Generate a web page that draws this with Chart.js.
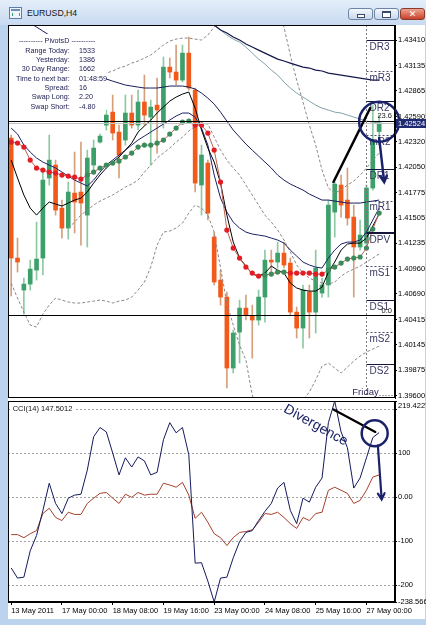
<!DOCTYPE html>
<html lang="en">
<head>
<meta charset="UTF-8">
<title>EURUSD,H4</title>
<script src="https://cdn.jsdelivr.net/npm/chart.js"></script>
<style>
  html, body { margin: 0; padding: 0; }
  body { width: 426px; height: 625px; overflow: hidden; position: relative; background: #bcd3ee; font-family: 'Liberation Sans', Arial, sans-serif; }
  .titlebar { position: absolute; left: 0; top: 0; width: 426px; height: 25px; background: linear-gradient(#e4eef9, #c8daf0); }
  .title { position: absolute; left: 27px; top: 8px; font-size: 8.7px; color: #151515; }
  .icon { position: absolute; left: 9px; top: 7px; width: 11px; height: 10px; border: 1px solid #5d7ea8; background: #eef4fb; }
  .icon:before { content: ''; position: absolute; left: 1px; top: 1px; width: 9px; height: 2px; background: #6d8db8; }
  .icon:after { content: ''; position: absolute; left: 2px; top: 5px; width: 6px; height: 3px; border-left: 1px solid #3a9e68; border-right: 1px solid #e0602a; }
  .btn { position: absolute; top: 8px; height: 10px; border: 1px solid #6c84a5; border-radius: 3px; background: linear-gradient(#f4f7fb, #c9d8eb); }
  .min { left: 348px; width: 23px; }
  .min:after { content: ''; position: absolute; left: 8px; top: 5px; width: 6px; height: 2px; border: 1px solid #3a4a66; background: #fff; }
  .max { left: 374px; width: 23px; }
  .max:after { content: ''; position: absolute; left: 7px; top: 2px; width: 7px; height: 4px; border: 1px solid #3a4a66; border-top-width: 2px; background: #fff; }
  .close { left: 400px; width: 23px; border-color: #8d3a2a; background: linear-gradient(#eda592, #c8402a); color: #fff; font: bold 9px 'DejaVu Sans', sans-serif; text-align: center; line-height: 10px; }
  .client { position: absolute; left: 8px; top: 25px; width: 417px; height: 594px; background: #fff; }
  #main { position: absolute; left: 8px; top: 25px; }
  #cci { position: absolute; left: 8px; top: 392px; }
</style>
</head>
<body>
  <div class="titlebar">
    <div class="icon"></div>
    <div class="title">EURUSD,H4</div>
    <div class="btn min"></div>
    <div class="btn max"></div>
    <div class="btn close">✕</div>
  </div>
  <div class="client"></div>
  <canvas id="main" width="418" height="377"></canvas>
  <canvas id="cci" width="418" height="228"></canvas>

<script>
  // H4 bars, 13 May 16:00 .. 27 May 08:00, plus two empty slots on the right
  const barTimes = [
    '13 May 16:00','13 May 20:00',
    '16 May 00:00','16 May 04:00','16 May 08:00','16 May 12:00','16 May 16:00','16 May 20:00',
    '17 May 00:00','17 May 04:00','17 May 08:00','17 May 12:00','17 May 16:00','17 May 20:00',
    '18 May 00:00','18 May 04:00','18 May 08:00','18 May 12:00','18 May 16:00','18 May 20:00',
    '19 May 00:00','19 May 04:00','19 May 08:00','19 May 12:00','19 May 16:00','19 May 20:00',
    '20 May 00:00','20 May 04:00','20 May 08:00','20 May 12:00','20 May 16:00','20 May 20:00',
    '23 May 00:00','23 May 04:00','23 May 08:00','23 May 12:00','23 May 16:00','23 May 20:00',
    '24 May 00:00','24 May 04:00','24 May 08:00','24 May 12:00','24 May 16:00','24 May 20:00',
    '25 May 00:00','25 May 04:00','25 May 08:00','25 May 12:00','25 May 16:00','25 May 20:00',
    '26 May 00:00','26 May 04:00','26 May 08:00','26 May 12:00','26 May 16:00','26 May 20:00',
    '27 May 00:00','27 May 04:00','27 May 08:00','27 May 12:00','27 May 16:00'
  ];
  const axisTickIdx = [0, 8, 16, 24, 32, 40, 48, 56];
  const axisTickText = ['13 May 2011','17 May 00:00','18 May 08:00','19 May 16:00','23 May 00:00','24 May 08:00','25 May 16:00','27 May 00:00'];

  const open = [1.42360,1.41075,1.40732,1.40796,1.40946,1.41075,1.41932,1.42071,1.41610,1.41396,
    1.41771,1.41782,1.41535,1.42071,1.42317,1.42499,1.42638,1.42424,1.42339,1.42628,
    1.42499,1.42746,1.42585,1.42713,1.42531,1.43120,1.43067,1.42981,1.43270,1.42874,
    1.41857,1.42092,1.41300,1.40839,1.40657,1.39897,1.40282,1.40539,1.40454,1.40411,
    1.40657,1.41053,1.41032,1.41128,1.41021,1.40496,1.40325,1.40711,1.40496,1.40700,
    1.40786,1.41567,1.41857,1.41696,1.41514,1.41193,1.41235,1.41825,1.42430];
  const high = [1.42392,1.41289,1.40861,1.41053,1.41460,1.41996,1.42392,1.42124,1.41696,1.41889,
    1.42210,1.42317,1.42231,1.42339,1.42403,1.42660,1.42821,1.42499,1.42821,1.42821,
    1.42874,1.43035,1.42767,1.43003,1.43228,1.43217,1.43356,1.43356,1.43442,1.42896,
    1.42285,1.42124,1.41353,1.40946,1.40711,1.40304,1.40625,1.40679,1.40571,1.40732,
    1.41160,1.41160,1.41246,1.41246,1.41075,1.40550,1.40786,1.40786,1.41160,1.40861,
    1.41696,1.41889,1.41964,1.42039,1.41642,1.41482,1.41857,1.42713,1.42606];
  const low = [1.40668,1.40925,1.40475,1.40732,1.40839,1.40893,1.41857,1.41535,1.41289,1.41278,
    1.41343,1.41214,1.41193,1.41996,1.42306,1.42446,1.42339,1.41932,1.42285,1.42467,
    1.42446,1.42499,1.42071,1.42199,1.42467,1.43003,1.42928,1.42960,1.42874,1.41782,
    1.41535,1.41482,1.40786,1.40571,1.39683,1.39843,1.39950,1.40411,1.40004,1.40357,
    1.40389,1.40925,1.40968,1.40968,1.40464,1.40218,1.40111,1.40218,1.40272,1.40657,
    1.40657,1.41300,1.41514,1.41428,1.40657,1.41160,1.41193,1.41803,1.42330];
  const close = [1.41075,1.41032,1.40796,1.40957,1.41064,1.41910,1.42124,1.41589,1.41396,1.41782,
    1.41675,1.41664,1.42146,1.42253,1.42381,1.42606,1.42414,1.42178,1.42628,1.42499,
    1.42746,1.42606,1.42692,1.42660,1.43120,1.43067,1.42981,1.43270,1.42896,1.41878,
    1.42178,1.41557,1.40818,1.40657,1.39897,1.40272,1.40539,1.40464,1.40411,1.40657,
    1.41053,1.41032,1.41128,1.41000,1.40496,1.40325,1.40732,1.40496,1.40968,1.40786,
    1.41642,1.41867,1.41642,1.41503,1.41193,1.41321,1.41825,1.42317,1.42524];

  // dotted moving average (red when falling, green when rising)
  const maDots = [1.42317,1.42306,1.42264,1.42124,1.42039,1.42017,1.41996,1.41985,1.41964,1.41953,
    1.41942,1.41921,1.41964,1.41996,1.42039,1.42071,1.42092,1.42114,1.42157,1.42199,
    1.42264,1.42285,1.42285,1.42306,1.42339,1.42403,1.42467,1.42531,1.42542,1.42499,
    1.42499,1.42414,1.42231,1.41889,1.41375,1.41182,1.41075,1.40978,1.40914,1.40882,
    1.40893,1.40903,1.40925,1.40925,1.40914,1.40914,1.40914,1.40914,1.40903,1.40903,
    1.40946,1.40978,1.41021,1.41064,1.41075,1.41086,1.41182,1.41385,1.41557];
  const fastLine = [1.42124,1.41932,1.41750,1.41610,1.41535,1.41610,1.41675,1.41653,1.41632,1.41664,
    1.41696,1.41717,1.41782,1.41878,1.41964,1.42039,1.42103,1.42157,1.42231,1.42306,
    1.42424,1.42489,1.42553,1.42628,1.42692,1.42756,1.42799,1.42831,1.42853,1.42681,
    1.42446,1.42253,1.42103,1.41878,1.41535,1.41246,1.41075,1.40989,1.40903,1.40882,
    1.40914,1.40989,1.40946,1.40914,1.40807,1.40754,1.40732,1.40721,1.40721,1.40764,
    1.40925,1.41032,1.41160,1.41225,1.41235,1.41235,1.41289,1.41418,1.41546];
  const midLine = [1.42467,1.42403,1.42285,1.42210,1.42146,1.42103,1.42071,1.42039,1.41996,1.41953,
    1.41910,1.41878,1.41846,1.41910,1.41996,1.42071,1.42124,1.42178,1.42231,1.42285,
    1.42339,1.42381,1.42424,1.42467,1.42510,1.42553,1.42596,1.42628,1.42628,1.42585,
    1.42467,1.42285,1.41964,1.41717,1.41567,1.41460,1.41396,1.41353,1.41332,1.41321,
    1.41310,1.41289,1.41268,1.41235,1.41160,1.41096,1.41032,1.41000,1.40978,1.40968,
    1.41075,1.41160,1.41225,1.41246,1.41246,1.41268,1.41353,1.41482,1.41610];
  const envUpper = [1.43784,1.43709,1.43645,1.43592,1.43549,1.43506,1.43463,1.43420,1.43356,1.43302,
    1.43238,1.43174,1.43120,1.43067,1.43024,1.42992,1.42970,1.42949,1.42928,1.42917,
    1.42906,1.42896,1.42896,1.42896,1.42906,1.42917,1.42917,1.42917,1.42906,1.42885,
    1.42842,1.42788,1.42724,1.42638,1.42542,1.42446,1.42371,1.42296,1.42231,1.42167,
    1.42103,1.42039,1.41964,1.41910,1.41867,1.41835,1.41803,1.41760,1.41728,1.41696,
    1.41696,1.41685,1.41675,1.41664,1.41664,1.41664,1.41675,1.41685,1.41696];
  const slowLine = [null,null,null,null,null,null,null,null,null,null,
    null,null,null,null,null,null,null,null,null,null,
    null,null,null,null,null,null,null,null,1.43667,1.43645,
    1.43624,1.43602,1.43570,1.43517,1.43485,1.43442,1.43410,1.43367,1.43335,1.43302,
    1.43270,1.43238,1.43206,1.43185,1.43163,1.43142,1.43120,1.43110,1.43088,1.43078,
    1.43056,1.43045,1.43035,1.43024,1.43013,1.43003,1.42992,1.42981,1.42981];
  const tealLine = [null,null,null,null,null,null,null,null,null,null,
    null,null,null,null,null,null,null,null,null,null,
    null,null,null,null,null,null,null,null,1.43731,1.43699,
    1.43667,1.43624,1.43570,1.43517,1.43463,1.43420,1.43388,1.43335,1.43270,1.43206,
    1.43153,1.43088,1.43035,1.42960,1.42896,1.42842,1.42799,1.42756,1.42713,1.42681,
    1.42660,1.42638,1.42628,1.42606,1.42585,1.42564,1.42542,1.42531,1.42521];
  const bandUpper = [1.42821,1.42842,1.42853,1.42874,1.42896,1.42906,1.42917,1.42928,1.42938,1.42949,
    1.42960,1.42981,1.42992,1.43003,1.43024,1.43056,1.43078,1.43110,1.43131,1.43163,
    1.43185,1.43217,1.43249,1.43302,1.43356,1.43399,1.43420,1.43431,1.43431,1.43420,
    1.43410,1.43463,1.43549,1.43645,1.43709,1.43752,1.43784,1.43784,1.43774,1.43752,
    1.43731,1.43709,1.43677,1.43549,1.43249,1.42981,1.42746,1.42499,1.42285,1.42017,
    1.41825,1.41771,1.41803,1.41857,1.41899,1.41964,1.42039,1.42124,1.42199];
  const bandLower = [null,null,null,null,null,null,null,null,null,1.41396,
    1.41460,1.41535,1.41589,1.41642,1.41685,1.41717,1.41750,1.41792,1.41835,1.41867,
    1.41910,1.41996,1.42071,1.42146,1.42199,1.42253,1.42317,1.42371,1.42435,1.42489,
    1.42521,1.42510,1.42371,1.42231,1.42124,1.42039,1.41964,1.41857,1.41750,1.41642,
    1.41535,1.41460,1.41375,1.41268,1.41139,1.41000,1.40914,1.40861,1.40828,1.40807,
    1.40796,1.40818,1.40882,1.40925,1.40957,1.40989,1.41032,1.41075,1.41118];
  const bandLowerWide = [1.40807,1.40646,1.40496,1.40357,1.40336,1.40475,1.40571,1.40646,1.40625,1.40604,
    1.40593,1.40593,1.40604,1.40614,1.40625,1.40614,1.40593,1.40614,1.40625,1.40657,
    1.40732,1.40818,1.40978,1.41214,1.41353,1.41364,1.41396,1.41450,1.41557,1.41642,
    1.41610,1.41535,1.41353,1.40968,1.40593,1.40357,1.40143,1.39982,1.39608,1.39393,
    1.39233,1.39126,1.39126,1.39179,1.39286,1.39425,1.39554,1.39640,1.39768,1.39918,
    1.39950,1.39897,1.39843,1.39907,1.39972,1.40025,1.40068,1.40100,1.40132];

  const priceTicks = [1.43410,1.43135,1.42865,1.42590,1.42320,1.42050,1.41775,1.41505,1.41235,1.40960,1.40690,1.40415,1.40145,1.39875,1.39600];
  const priceMin = 1.39576, priceMax = 1.43571;
  const bidPrice = 1.42524;

  const pivotNames = ['DR3','mR3','DR2','mR2','DR1','mR1','DPV','mS1','DS1','mS2','DS2'];
  const pivotLevels = [1.43410,1.43080,1.42755,1.42390,1.42030,1.41690,1.41345,1.40985,1.40625,1.40285,1.39940];
  const fibLevels = [1.42543, 1.40460];
  const fibText = ['23.6', '0.0'];
  const daySep = barTimes.indexOf('27 May 00:00');

  const infoRows = [['Range Today:', '1533'], ['Yesterday:', '1386'], ['30 Day Range:', '1662'],
    ['Time to next bar:', '01:48:59'], ['Spread:', '16'], ['Swap Long:', '2.20'], ['Swap Short:', '-4.80']];

  // hand drawn marks, [bar index, price]
  const trendMain = [[50.8, 1.41889], [56.6, 1.42682]];
  const circleMain = [58.0, 1.42535];
  const arrowMain = [[58.0, 1.42361], [58.8, 1.41889]];

  const cciMain = [-161,-184,-182,-122,-87,-30,32,-14,-37,-2,
    5,7,62,138,159,149,101,51,90,69,
    92,83,51,57,131,170,147,159,97,-150,
    -149,-191,-238.566,-184,-182,-138,-101,-80,-76,-53,
    -32,-14,21,34,-30,-60,-2,-11,23,44,
    170,219.4227,149,113,21,44,90,136,147.5012];
  const cciSlow = [-85,-85,-92,-83,-76,-37,-25,-46,-53,-34,
    -39,-39,-14,-2,9,11,-2,-14,7,0,
    11,5,7,7,32,28,23,34,5,-48,
    -34,-57,-83,-92,-110,-92,-80,-78,-74,-57,
    -37,-39,-34,-46,-60,-71,-46,-53,-37,-34,
    16,23,16,9,-14,-7,16,46,51];
  const cciTicks = [219.4227, 200, 100, 0, -100, -200, -238.566];
  const cciTickText = ['219.4227', '', '100', '0.00', '-100', '-200', '-238.566'];
  const trendCci = [[50.8, 200], [57.4, 149]];
  const circleCci = [57.3, 146];
  const arrowCci = [[57.8, 118], [58.4, -5]];
  const divergenceAt = [48.0, 164];

  const GREEN = '#3d9f69', ORANGE = '#f25a1c';
  const NAVY = '#1b226a';
  const FONT = "'Liberation Sans', Arial, sans-serif";
  Chart.defaults.font.family = FONT;
  Chart.defaults.font.size = 7.5;
  Chart.defaults.color = '#000';

  const bodyColors = open.map((o, i) => close[i] >= o ? GREEN : ORANGE);
  const wickColors = open.map((o, i) => close[i] >= o ? '#8cc9a2' : '#d4a07c');
  const dotColors = [];
  maDots.forEach((v, i) => {
    let c = i ? dotColors[i - 1] : '#e31d25';
    if (i && v > maDots[i - 1]) c = '#3a8c5c';
    if (i && v < maDots[i - 1]) c = '#e31d25';
    dotColors.push(c);
  });

  function hline(ctx, x1, x2, yy, color, w, dash) {
    ctx.save();
    ctx.strokeStyle = color;
    ctx.lineWidth = w;
    ctx.setLineDash(dash);
    const yr = w % 2 ? Math.round(yy) + 0.5 : Math.round(yy);
    ctx.beginPath();
    ctx.moveTo(x1, yr);
    ctx.lineTo(x2, yr);
    ctx.stroke();
    ctx.restore();
  }

  function arrow(ctx, x1, y1, x2, y2, color, w) {
    const ang = Math.atan2(y2 - y1, x2 - x1);
    ctx.save();
    ctx.strokeStyle = color;
    ctx.lineWidth = w;
    ctx.lineCap = 'round';
    ctx.beginPath();
    ctx.moveTo(x1, y1);
    ctx.lineTo(x2, y2);
    ctx.moveTo(x2 - 7 * Math.cos(ang - 0.5), y2 - 7 * Math.sin(ang - 0.5));
    ctx.lineTo(x2, y2);
    ctx.lineTo(x2 - 7 * Math.cos(ang + 0.5), y2 - 7 * Math.sin(ang + 0.5));
    ctx.stroke();
    ctx.restore();
  }

  const mainDecor = {
    id: 'mainDecor',
    afterDatasetsDraw(chart) {
      const {ctx, chartArea: a, scales: {x, y}} = chart;
      const X = i => x.getPixelForValue(i);
      const Y = v => y.getPixelForValue(v);
      ctx.save();
      ctx.beginPath();
      ctx.rect(a.left, a.top, a.right - a.left, a.bottom - a.top);
      ctx.clip();

      hline(ctx, a.left, a.right, Y(bidPrice), '#c4c4c4', 1, []);
      fibLevels.forEach(v => hline(ctx, a.left, a.right, Y(v), '#000', 1, []));

      const sep = Math.round(X(daySep)) + 0.5;
      ctx.strokeStyle = '#7c7c7c';
      ctx.lineWidth = 1;
      ctx.setLineDash([2, 2]);
      ctx.beginPath();
      ctx.moveTo(sep, a.top);
      ctx.lineTo(sep, a.bottom);
      ctx.stroke();
      ctx.setLineDash([]);

      ctx.font = '10px ' + FONT;
      ctx.textAlign = 'left';
      ctx.textBaseline = 'top';
      pivotNames.forEach((n, k) => {
        const py = Y(pivotLevels[k]);
        const major = n[0] === 'D';
        hline(ctx, sep, a.right, py, major ? '#16163a' : '#4c4c6a', n === 'DPV' ? 2 : 1, major ? [] : [2, 2]);
        ctx.fillStyle = '#3a3a62';
        ctx.fillText(n, sep + 3, py + 2);
      });

      ctx.font = '7.5px ' + FONT;
      ctx.fillStyle = '#222';
      ctx.textAlign = 'right';
      ctx.textBaseline = 'bottom';
      fibLevels.forEach((v, k) => ctx.fillText(fibText[k], a.right - 3, Y(v) - 1));

      ctx.font = '9.5px ' + FONT;
      ctx.fillStyle = '#2a2a5a';
      ctx.textAlign = 'center';
      ctx.fillText('Friday', sep - 1, a.bottom - 1);
      ctx.strokeStyle = '#555';
      ctx.setLineDash([1, 2]);
      ctx.beginPath();
      ctx.moveTo(sep + 13, a.bottom - 2.5);
      ctx.lineTo(a.right, a.bottom - 2.5);
      ctx.stroke();
      ctx.setLineDash([]);

      // info panel
      ctx.fillStyle = '#fff';
      ctx.fillRect(a.left + 1, a.top + 9, 97, 79);
      ctx.fillStyle = '#1b1b50';
      ctx.font = '7.2px ' + FONT;
      ctx.textBaseline = 'middle';
      ctx.textAlign = 'center';
      ctx.fillText('---------- PivotsD ----------', a.left + 49, a.top + 16);
      infoRows.forEach(([k, v], r) => {
        const yy = a.top + 25.7 + r * 9.35;
        ctx.textAlign = 'right';
        ctx.fillText(k, a.left + 61.7, yy);
        ctx.textAlign = 'left';
        ctx.fillText(v, a.left + 71, yy);
      });
      ctx.restore();

      // drawn objects
      ctx.save();
      ctx.lineCap = 'round';
      ctx.strokeStyle = '#000';
      ctx.lineWidth = 2.5;
      ctx.beginPath();
      ctx.moveTo(X(trendMain[0][0]), Y(trendMain[0][1]));
      ctx.lineTo(X(trendMain[1][0]), Y(trendMain[1][1]));
      ctx.stroke();
      ctx.strokeStyle = NAVY;
      ctx.beginPath();
      ctx.arc(X(circleMain[0]), Y(circleMain[1]), 20, 0, Math.PI * 2);
      ctx.stroke();
      ctx.restore();
      arrow(ctx, X(arrowMain[0][0]), Y(arrowMain[0][1]), X(arrowMain[1][0]), Y(arrowMain[1][1]), NAVY, 2.5);
    },
    afterDraw(chart) {
      const {ctx, chartArea: a, scales: {y}} = chart;
      ctx.save();
      ctx.strokeStyle = '#000';
      ctx.lineWidth = 1;
      ctx.strokeRect(a.left + 0.5, a.top + 0.5, a.right - a.left - 1, a.bottom - a.top - 1);
      const ty = Math.round(y.getPixelForValue(bidPrice));
      ctx.fillStyle = '#1f2a72';
      ctx.fillRect(a.right + 1, ty - 4, 30, 9);
      ctx.fillStyle = '#fff';
      ctx.font = '7.5px ' + FONT;
      ctx.textAlign = 'left';
      ctx.textBaseline = 'middle';
      ctx.fillText(bidPrice.toFixed(5), a.right + 3, ty + 0.5);
      ctx.restore();
    }
  };

  const cciDecor = {
    id: 'cciDecor',
    afterDatasetsDraw(chart) {
      const {ctx, chartArea: a, scales: {x, y}} = chart;
      const X = i => x.getPixelForValue(i);
      const Y = v => y.getPixelForValue(v);
      ctx.save();
      const title = 'CCI(14) ' + cciMain[cciMain.length - 1].toFixed(4);
      ctx.font = '7.5px ' + FONT;
      const w = ctx.measureText(title).width;
      ctx.fillStyle = '#fff';
      ctx.fillRect(a.left + 3, a.top + 3, w + 5, 9);
      ctx.fillStyle = '#111';
      ctx.textBaseline = 'middle';
      ctx.textAlign = 'left';
      ctx.fillText(title, a.left + 4.7, a.top + 7.5);

      ctx.save();
      ctx.translate(X(divergenceAt[0]), Y(divergenceAt[1]));
      ctx.rotate(29 * Math.PI / 180);
      ctx.font = '14px ' + FONT;
      ctx.fillStyle = '#1c2466';
      ctx.textAlign = 'center';
      ctx.fillText('Divergence', 0, 0);
      ctx.restore();

      ctx.lineCap = 'round';
      ctx.strokeStyle = '#000';
      ctx.lineWidth = 2.2;
      ctx.beginPath();
      ctx.moveTo(X(trendCci[0][0]), Y(trendCci[0][1]));
      ctx.lineTo(X(trendCci[1][0]), Y(trendCci[1][1]));
      ctx.stroke();
      ctx.strokeStyle = NAVY;
      ctx.lineWidth = 2.5;
      ctx.beginPath();
      ctx.arc(X(circleCci[0]), Y(circleCci[1]), 13, 0, Math.PI * 2);
      ctx.stroke();
      ctx.restore();
      arrow(ctx, X(arrowCci[0][0]), Y(arrowCci[0][1]), X(arrowCci[1][0]), Y(arrowCci[1][1]), NAVY, 2.2);
    },
    afterDraw(chart) {
      const {ctx, chartArea: a} = chart;
      ctx.save();
      ctx.strokeStyle = '#000';
      ctx.lineWidth = 1;
      ctx.strokeRect(a.left + 0.5, a.top + 0.5, a.right - a.left - 1, a.bottom - a.top - 1);
      // MT4 prints the panel maximum just under the top edge
      ctx.fillStyle = '#000';
      ctx.font = '7.5px ' + FONT;
      ctx.textAlign = 'left';
      ctx.textBaseline = 'middle';
      ctx.fillText(cciTickText[0], a.right + 3, a.top + 4.5);
      ctx.restore();
    }
  };

  const line = (data, color, width, extra) => Object.assign({
    type: 'line', data, borderColor: color, borderWidth: width, pointRadius: 0, tension: 0, order: 3
  }, extra || {});

  new Chart(document.getElementById('main'), {
    type: 'bar',
    data: {
      labels: barTimes,
      datasets: [
        line(maDots, '#c0604f', 1, { pointRadius: 2.6, pointBackgroundColor: dotColors, pointBorderWidth: 0, order: 0 }),
        line(fastLine, '#000', 1, { order: 1 }),
        line(midLine, NAVY, 1, { order: 2 }),
        line(envUpper, '#1a1f5c', 1),
        line(slowLine, '#13174a', 1.2),
        line(tealLine, '#82a2aa', 1),
        line(bandUpper, '#8a8a8a', 1, { borderDash: [3, 2] }),
        line(bandLower, '#8a8a8a', 1, { borderDash: [3, 2] }),
        line(bandLowerWide, '#8a8a8a', 1, { borderDash: [3, 2] }),
        { label: 'body', data: open.map((o, i) => [o, close[i]]), backgroundColor: bodyColors,
          barThickness: 4, grouped: false, borderWidth: 0, order: 8 },
        { label: 'wick', data: low.map((l, i) => [l, high[i]]), backgroundColor: wickColors,
          barThickness: 1, grouped: false, borderWidth: 0, order: 9 }
      ]
    },
    options: {
      responsive: false,
      animation: false,
      devicePixelRatio: 1,
      events: [],
      layout: { padding: { top: 0, left: 0, right: 0, bottom: 4 }, autoPadding: false },
      plugins: { legend: { display: false }, tooltip: { enabled: false } },
      scales: {
        x: { display: false, offset: true },
        y: {
          position: 'right', min: priceMin, max: priceMax, bounds: 'data',
          afterBuildTicks: s => { s.ticks = priceTicks.map(v => ({ value: v })); },
          afterFit: s => { s.width = 31; s.paddingTop = 0; s.paddingBottom = 0; },
          ticks: { callback: v => v.toFixed(5), padding: 1, autoSkip: false },
          grid: { drawOnChartArea: false, drawTicks: true, tickLength: 2, color: '#000' },
          border: { color: '#000' }
        }
      }
    },
    plugins: [mainDecor]
  });

  new Chart(document.getElementById('cci'), {
    type: 'line',
    data: {
      labels: barTimes,
      datasets: [
        line(cciMain, '#141a5c', 1, { order: 0 }),
        line(cciSlow, '#a4402c', 1, { order: 1 })
      ]
    },
    options: {
      responsive: false,
      animation: false,
      devicePixelRatio: 1,
      events: [],
      layout: { padding: { top: 9, left: 0, right: 0, bottom: 0 }, autoPadding: false },
      plugins: { legend: { display: false }, tooltip: { enabled: false } },
      scales: {
        x: {
          offset: true,
          afterBuildTicks: s => { s.ticks = axisTickIdx.map(v => ({ value: v })); },
          afterFit: s => { s.height = 18; s.paddingLeft = 0; s.paddingRight = 0; },
          ticks: { callback: (v, i) => axisTickText[i], align: 'start', maxRotation: 0, minRotation: 0, autoSkip: false, padding: 1 },
          grid: { drawOnChartArea: false, drawTicks: true, tickLength: 3, color: '#000' },
          border: { color: '#000' }
        },
        y: {
          position: 'right', min: cciTicks[cciTicks.length - 1], max: cciTicks[0], bounds: 'data',
          afterBuildTicks: s => { s.ticks = cciTicks.map(v => ({ value: v })); },
          afterFit: s => { s.width = 31; s.paddingTop = 0; s.paddingBottom = 0; },
          ticks: { callback: (v, i) => i === 0 ? '' : cciTickText[i], padding: 1, autoSkip: false },
          grid: {
            drawTicks: true, tickLength: 2, tickColor: '#000',
            color: c => (c.tick && (c.tick.value === cciTicks[0] || c.tick.value === cciTicks[cciTicks.length - 1])) ? 'rgba(0,0,0,0)' : '#a4a4a4'
          },
          border: { color: '#000', dash: [2, 2] }
        }
      }
    },
    plugins: [cciDecor]
  });
</script>
</body>
</html>
